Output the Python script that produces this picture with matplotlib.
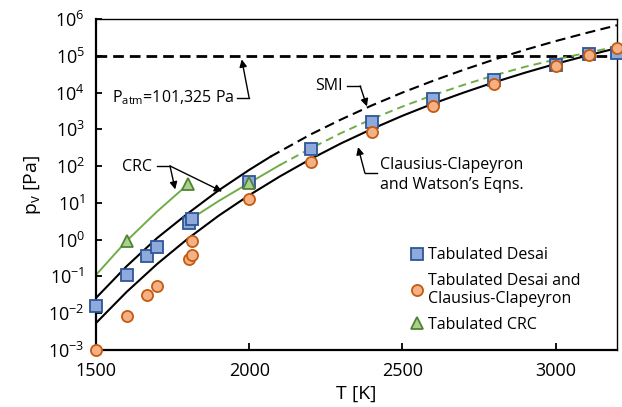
import matplotlib
matplotlib.use("Agg")
import matplotlib.pyplot as plt
import numpy as np

plt.rcParams['font.family'] = ['Open Sans', 'DejaVu Sans']
plt.rcParams['mathtext.fontset'] = 'custom'
plt.rcParams['mathtext.rm'] = 'Open Sans'
plt.rcParams['mathtext.it'] = 'Open Sans:italic'
plt.rcParams['mathtext.default'] = 'regular'

# ---------------- data ----------------
# Tabulated Desai
desai_T = [1500, 1600, 1668, 1700, 1803, 1813, 2000, 2200, 2400, 2600, 2800, 3000, 3110, 3200]
desai_p = [0.016, 0.11, 0.37, 0.65, 2.9, 3.6, 38, 290, 1550, 6600, 22000, 56000, 110000, 117000]

# Tabulated Desai and Clausius-Clapeyron
desai_cc_T = [1500, 1600, 1668, 1700, 1803, 1813, 1813, 2000, 2200, 2400, 2600, 2800, 3000, 3110, 3200]
desai_cc_p = [0.001, 0.0084, 0.031, 0.056, 0.30, 0.38, 0.94, 13, 130, 870, 4300, 16600, 54000, 105000, 166000]

# Tabulated CRC
crc_T = [1600, 1800, 2000]
crc_p = [0.93, 32, 35]

# CRC fit (low temperature)
crc_fit_T = [1500, 1600, 1700, 1800]
crc_fit_p = [0.11, 0.93, 5.9, 32]

# CRC fit continued (solid part then dashed extrapolation)
crc2_T = [1810, 1900, 2000, 2100, 2200, 2300, 2400, 2500, 2600, 2700, 2800, 2900, 3000, 3100, 3200]
crc2_p = [3.7, 11.2, 35, 107, 302, 794, 1905, 4170, 8510, 16200, 29500, 50100, 79400, 120000, 178000]
crc2_solid_n = 4  # first points drawn solid

# SMI (upper black, solid then dashed)
smi_T = [1500, 1600, 1700, 1800, 1900, 2000, 2070, 2100, 2200, 2300, 2400, 2500, 2600, 2700, 2800, 2900, 3000, 3100, 3200]
smi_p = [0.026, 0.19, 1.12, 5.2, 21.9, 79, 182, 251, 724, 1860, 4470, 10000, 20900, 41700, 79400, 145000, 251000, 417000, 676000]
smi_solid_n = 7

# Clausius-Clapeyron and Watson's Eqns.
cc_T = [1500, 1600, 1700, 1800, 1900, 2000, 2100, 2200, 2300, 2400, 2500, 2600, 2700, 2800, 2900, 3000, 3100, 3200]
cc_p = [0.0054, 0.038, 0.22, 1.07, 4.47, 16.2, 52.5, 155, 417, 1020, 2340, 5010, 10000, 19100, 34700, 60300, 100000, 162000]

p_atm = 101325

# ---------------- figure ----------------
fig = plt.figure(figsize=(6.22, 4.07), dpi=100)
ax = fig.add_axes([96/622, 1-350/407, 521/622, 331/407])

green = '#70AD47'
ax.axhline(p_atm, color='black', lw=2.0, ls=(0, (3.85, 2.15)), zorder=2)

ax.plot(crc_fit_T, crc_fit_p, color=green, lw=1.4, zorder=2)
ax.plot(crc2_T[:crc2_solid_n], crc2_p[:crc2_solid_n], color=green, lw=1.4, zorder=2)
ax.plot(crc2_T[crc2_solid_n-1:], crc2_p[crc2_solid_n-1:], color=green, lw=1.4, ls=(0, (4.1, 2.6)), zorder=2)

ax.plot(smi_T[:smi_solid_n], smi_p[:smi_solid_n], color='black', lw=1.5, zorder=2)
ax.plot(smi_T[smi_solid_n-1:], smi_p[smi_solid_n-1:], color='black', lw=1.5, ls=(0, (4.8, 2.6)), zorder=2)

ax.plot(cc_T, cc_p, color='black', lw=1.5, zorder=2)

ax.plot(desai_T, desai_p, ls='none', marker='s', ms=8, mfc='#8EA9DB', mec='#2F5597', mew=1.3,
        label='Tabulated Desai', clip_on=False, zorder=4)
ax.plot(desai_cc_T, desai_cc_p, ls='none', marker='o', ms=8, mfc='#F4B183', mec='#C55A11', mew=1.3,
        label='Tabulated Desai and\nClausius-Clapeyron', clip_on=False, zorder=5)
ax.plot(crc_T, crc_p, ls='none', marker='^', ms=8.5, mfc='#A9D18E', mec='#548235', mew=1.3,
        label='Tabulated CRC', clip_on=False, zorder=6)

ax.set_yscale('log')
ax.set_xlim(1500, 3200)
ax.set_ylim(1e-3, 1e6)
ax.set_xticks([1500, 2000, 2500, 3000])
ax.set_yticks([10.0**k for k in range(-3, 7)])
ax.minorticks_off()
ax.tick_params(axis='x', direction='in', length=5, width=1.3, labelsize=13, pad=9, top=False)
ax.tick_params(axis='y', direction='in', length=4, width=1.3, labelsize=13, pad=8, right=False)

for s in ['left', 'bottom']:
    ax.spines[s].set_linewidth(1.6)
for s in ['top', 'right']:
    ax.spines[s].set_linewidth(1.0)

ax.set_xlabel('T [K]', fontsize=14, labelpad=3)
ax.set_ylabel('p$_\\mathregular{v}$ [Pa]', fontsize=14, labelpad=4)

leg = ax.legend(loc='upper left', bbox_to_anchor=(0.585, 0.33), frameon=False, fontsize=11.5,
                handletextpad=0.1, handlelength=1.2, labelspacing=0.6, borderaxespad=0)

# ---------------- annotations ----------------
fs = 11.5
arrow = dict(arrowstyle='-|>', color='black', lw=1.0, mutation_scale=11, shrinkA=0, shrinkB=0)
T = ax.transAxes

ax.text(0.031, 0.761, 'P$_\\mathregular{atm}$=101,325 Pa', transform=T, fontsize=fs, ha='left', va='center')
ax.plot([0.271, 0.294], [0.761, 0.761], transform=T, color='black', lw=1.0)
ax.annotate('', xy=(0.2797, 0.878), xytext=(0.294, 0.761), xycoords=T, textcoords=T, arrowprops=arrow)

ax.text(0.1075, 0.553, 'CRC', transform=T, fontsize=fs, ha='right', va='center')
ax.plot([0.117, 0.142], [0.556, 0.556], transform=T, color='black', lw=1.0)
ax.annotate('', xy=(0.152, 0.485), xytext=(0.142, 0.556), xycoords=T, textcoords=T, arrowprops=arrow)
ax.annotate('', xy=(0.242, 0.479), xytext=(0.142, 0.556), xycoords=T, textcoords=T, arrowprops=arrow)

ax.text(0.474, 0.798, 'SMI', transform=T, fontsize=fs, ha='right', va='center')
ax.plot([0.482, 0.507], [0.798, 0.798], transform=T, color='black', lw=1.0)
ax.annotate('', xy=(0.520, 0.736), xytext=(0.507, 0.798), xycoords=T, textcoords=T, arrowprops=arrow)

ax.text(0.545, 0.529, 'Clausius-Clapeyron\nand Watson\u2019s Eqns.', transform=T, fontsize=fs,
        ha='left', va='center', linespacing=1.3)
ax.plot([0.539, 0.516], [0.535, 0.535], transform=T, color='black', lw=1.0)
ax.annotate('', xy=(0.503, 0.613), xytext=(0.516, 0.535), xycoords=T, textcoords=T, arrowprops=arrow)

fig.savefig('out.png', dpi=100)
